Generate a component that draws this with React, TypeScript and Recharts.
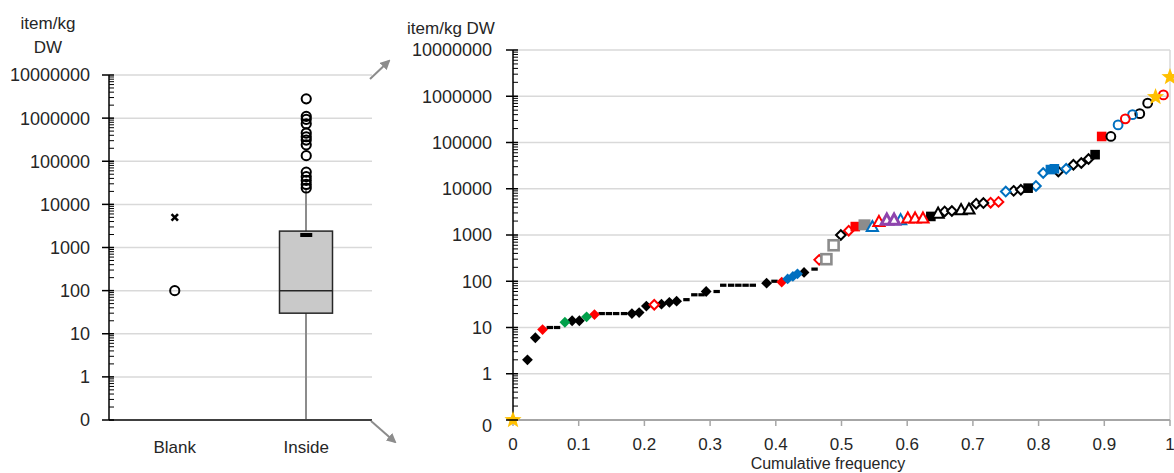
import React from "react";
import {
  ComposedChart,
  ScatterChart,
  Scatter,
  Bar,
  XAxis,
  YAxis,
  CartesianGrid,
} from "recharts";

const FONT = '"Liberation Sans", Arial, sans-serif';
const TEXT = "#262626";

// log axis: -1 is drawn as "0"
const majorTicks = [-1, 0, 1, 2, 3, 4, 5, 6, 7];
const majorLabels = ["0", "1", "10", "100", "1000", "10000", "100000", "1000000", "10000000"];
const minorTicks: number[] = [];
for (let n = -1; n < 7; n++) for (let k = 2; k <= 9; k++) minorTicks.push(n + Math.log10(k));
const allTicks = [...majorTicks, ...minorTicks];

const toLog = (v: number) => Math.log10(Math.max(v, 0.1));

// ---- left panel: box plot ----
const groups = ["Blank", "Inside"];
const insideBox = { low: 0, q1: 30, median: 100, q3: 2400, high: 22000 };
const insideMean = 1950;
const insideOutliers = [
  2800000, 1100000, 940000, 740000, 450000, 370000, 310000, 240000, 135000, 56000, 44000, 36000,
  29000, 24000,
];
const blankValues = [100];
const blankMean = 5000;

// ---- right panel: cumulative frequency (freq, item/kg DW) ----
const blackDiamonds = [[0.022, 2], [0.034, 6], [0.09, 14], [0.101, 14], [0.181, 20], [0.192, 21], [0.203, 29], [0.226, 32], [0.238, 35], [0.249, 37], [0.294, 60], [0.386, 91], [0.443, 155]];
const redDiamonds = [[0.045, 9], [0.124, 19], [0.409, 96]];
const greenDiamonds = [[0.079, 13], [0.112, 17]];
const blueDiamonds = [[0.418, 112], [0.426, 127], [0.433, 145]];
const dashes = [[0.056, 10], [0.067, 10], [0.135, 20], [0.146, 20], [0.157, 20], [0.169, 20], [0.264, 40], [0.276, 51], [0.287, 51], [0.31, 60], [0.32, 82], [0.332, 82], [0.343, 82], [0.354, 82], [0.365, 82], [0.398, 100], [0.459, 183]];
const redOpenDiamonds = [[0.215, 31], [0.466, 290], [0.511, 1240], [0.727, 5000], [0.739, 5200]];
const blackOpenDiamonds = [[0.499, 1000], [0.657, 3230], [0.668, 3300], [0.705, 4750], [0.716, 4900], [0.762, 9000], [0.773, 9500], [0.83, 23600], [0.853, 33000], [0.865, 36000], [0.876, 44000]];
const blueOpenDiamonds = [[0.75, 8700], [0.796, 11500], [0.807, 21900], [0.842, 27000]];
const grayOpenSquares = [[0.477, 300], [0.488, 600]];
const graySquares = [[0.535, 1660]];
const redSquares = [[0.521, 1520], [0.896, 135000]];
const blackSquares = [[0.636, 2520], [0.784, 10300], [0.886, 54600]];
const blueSquares = [[0.818, 26000], [0.824, 27000]];
const redTriangles = [[0.557, 1960], [0.601, 2330], [0.612, 2330], [0.624, 2330]];
const blueTriangles = [[0.547, 1520], [0.59, 2140]];
const purpleTriangles = [[0.569, 2140], [0.58, 2140]];
const blackTriangles = [[0.647, 2960], [0.682, 3530], [0.694, 3640]];
const blackCircles = [[0.91, 135000], [0.954, 420000], [0.966, 710000]];
const blueCircles = [[0.921, 240000], [0.943, 400000]];
const redCircles = [[0.932, 325000], [0.99, 1070000]];
const stars = [[0, 0], [0.978, 960000], [1, 2600000]];

const freqTicks = [0, 0.1, 0.2, 0.3, 0.4, 0.5, 0.6, 0.7, 0.8, 0.9, 1];

type Mk = { kind: string; color: string; open?: boolean; sw?: number };

const makeShape = (m: Mk) => (props: any) => {
  const { cx, cy } = props;
  if (cx == null || cy == null) return <g />;
  const fill = m.open ? "#fff" : m.color;
  switch (m.kind) {
    case "diamond": {
      const r = m.open ? 4.8 : 5.4;
      return (
        <path
          d={`M${cx},${cy - r}L${cx + r},${cy}L${cx},${cy + r}L${cx - r},${cy}Z`}
          fill={fill}
          stroke={m.color}
          strokeWidth={m.open ? 2 : 0}
        />
      );
    }
    case "square": {
      const r = m.open ? 5 : 4.8;
      return <rect x={cx - r} y={cy - r} width={2 * r} height={2 * r} fill={fill} stroke={m.color} strokeWidth={m.open ? 2.6 : 0} />;
    }
    case "bigsquare":
      return <rect x={cx - 6} y={cy - 5.5} width={12} height={11} fill={m.color} />;
    case "triangle": {
      const r = 5.6;
      return (
        <path
          d={`M${cx},${cy - r}L${cx + r},${cy + r * 0.8}L${cx - r},${cy + r * 0.8}Z`}
          fill="#fff"
          stroke={m.color}
          strokeWidth={m.sw ?? 2}
        />
      );
    }
    case "circle":
      return <circle cx={cx} cy={cy} r={m.sw ? 4.4 : 4.6} fill="none" stroke={m.color} strokeWidth={2} />;
    case "dash":
      return <rect x={cx - 3.2} y={cy - 1.6} width={6.4} height={3.2} fill={m.color} />;
    case "star": {
      const R = 9;
      const r = 3.8;
      let d = "";
      for (let i = 0; i < 10; i++) {
        const rad = i % 2 === 0 ? R : r;
        const a = -Math.PI / 2 + (i * Math.PI) / 5;
        d += `${i === 0 ? "M" : "L"}${cx + rad * Math.cos(a)},${cy + rad * Math.sin(a)}`;
      }
      return <path d={d + "Z"} fill={m.color} />;
    }
    case "cross":
      return (
        <g stroke={m.color} strokeWidth={2.6}>
          <line x1={cx - 3.2} y1={cy - 3.2} x2={cx + 3.2} y2={cy + 3.2} />
          <line x1={cx - 3.2} y1={cy + 3.2} x2={cx + 3.2} y2={cy - 3.2} />
        </g>
      );
    case "mean":
      return <rect x={cx - 6} y={cy - 2} width={12} height={4} fill={m.color} />;
    default:
      return <g />;
  }
};

const series: { pts: number[][]; m: Mk }[] = [
  { pts: dashes, m: { kind: "dash", color: "#000" } },
  { pts: blackDiamonds, m: { kind: "diamond", color: "#000" } },
  { pts: redDiamonds, m: { kind: "diamond", color: "#ff0000" } },
  { pts: greenDiamonds, m: { kind: "diamond", color: "#00a04a" } },
  { pts: blueDiamonds, m: { kind: "diamond", color: "#0070c0" } },
  { pts: redOpenDiamonds, m: { kind: "diamond", color: "#ff0000", open: true } },
  { pts: blackOpenDiamonds, m: { kind: "diamond", color: "#000", open: true } },
  { pts: blueOpenDiamonds, m: { kind: "diamond", color: "#0070c0", open: true } },
  { pts: grayOpenSquares, m: { kind: "square", color: "#8c8c8c", open: true } },
  { pts: redSquares, m: { kind: "square", color: "#ff0000" } },
  { pts: graySquares, m: { kind: "bigsquare", color: "#8c8c8c" } },
  { pts: blackSquares, m: { kind: "square", color: "#000" } },
  { pts: blueSquares, m: { kind: "square", color: "#0070c0" } },
  { pts: blueTriangles, m: { kind: "triangle", color: "#0070c0" } },
  { pts: redTriangles, m: { kind: "triangle", color: "#ff0000" } },
  { pts: purpleTriangles, m: { kind: "triangle", color: "#8e44ad", sw: 3 } },
  { pts: blackTriangles, m: { kind: "triangle", color: "#000" } },
  { pts: blackCircles, m: { kind: "circle", color: "#000", sw: 1 } },
  { pts: blueCircles, m: { kind: "circle", color: "#0070c0", sw: 1 } },
  { pts: redCircles, m: { kind: "circle", color: "#ff0000", sw: 1 } },
  { pts: stars, m: { kind: "star", color: "#ffc000" } },
];

const LogTick = (gap: number, zeroShift: number) => (props: any) => {
  const { x, y, payload } = props;
  const idx = majorTicks.indexOf(payload.value);
  if (idx < 0) {
    return <line x1={x} x2={x + 5} y1={y} y2={y} stroke="#000" strokeWidth={1} />;
  }
  return (
    <g>
      <line x1={x - 7} x2={x + 5} y1={y} y2={y} stroke="#000" strokeWidth={1.5} />
      <text
        x={x - gap}
        y={y + (idx === 0 ? zeroShift : 0)}
        dy="0.36em"
        textAnchor="end"
        fontSize={18}
        fill={TEXT}
        fontFamily={FONT}
      >
        {majorLabels[idx]}
      </text>
    </g>
  );
};

const BoxShape = (props: any) => {
  const { x, y, width, height, payload } = props;
  const b = payload.stats;
  if (!b || !height) return <g />;
  const q1 = toLog(b.q1);
  const q3 = toLog(b.q3);
  const px = height / (q3 - q1);
  const cx = x + width / 2;
  const top = y - (toLog(b.high) - q3) * px;
  const bottom = y + height + (q1 - toLog(b.low)) * px;
  const med = y + (q3 - toLog(b.median)) * px;
  return (
    <g>
      <line x1={cx} x2={cx} y1={top} y2={bottom} stroke="#8c8c8c" strokeWidth={2} />
      <rect x={x} y={y} width={width} height={height} fill="#c9c9c9" stroke="#262626" strokeWidth={1.5} />
      <line x1={x} x2={x + width} y1={med} y2={med} stroke="#262626" strokeWidth={1.5} />
    </g>
  );
};

const boxRows = groups.map((name) =>
  name === "Inside"
    ? { name, box: [toLog(insideBox.q1), toLog(insideBox.q3)], stats: insideBox }
    : { name }
);

const outlierData = [
  ...blankValues.map((v) => ({ name: "Blank", L: toLog(v) })),
  ...insideOutliers.map((v) => ({ name: "Inside", L: toLog(v) })),
];
const meanData = [{ name: "Inside", L: toLog(insideMean) }];
const blankMeanData = [{ name: "Blank", L: toLog(blankMean) }];

export default function App() {
  return (
    <div style={{ position: "absolute", left: 0, top: 0, width: 1174, height: 473, background: "#fff", fontFamily: FONT, overflow: "hidden" }}>
      <div style={{ position: "absolute", left: 0, top: 0 }}>
        <ComposedChart width={380} height={473} data={boxRows} margin={{ top: 75, right: 8, bottom: 0, left: 0 }}>
          <CartesianGrid vertical={false} horizontalValues={majorTicks} stroke="#d9d9d9" strokeWidth={1.5} />
          <XAxis
            dataKey="name"
            type="category"
            allowDuplicatedCategory={false}
            height={53}
            axisLine={{ stroke: "#404040", strokeWidth: 2 }}
            tickLine={false}
            tickSize={0}
            tickMargin={21}
            tick={{ fontSize: 17, fill: TEXT, fontFamily: FONT }}
          />
          <YAxis
            type="number"
            domain={[-1, 7]}
            ticks={allTicks}
            interval={0}
            width={109}
            axisLine={{ stroke: "#000", strokeWidth: 1.5 }}
            tickLine={false}
            tickSize={0}
            tickMargin={0}
            tick={LogTick(19, 0)}
          />
          <Bar dataKey="box" barSize={53} shape={BoxShape} isAnimationActive={false} />
          <Scatter data={outlierData} dataKey="L" shape={makeShape({ kind: "circle", color: "#000" })} isAnimationActive={false} />
          <Scatter data={meanData} dataKey="L" shape={makeShape({ kind: "mean", color: "#000" })} isAnimationActive={false} />
          <Scatter data={blankMeanData} dataKey="L" shape={makeShape({ kind: "cross", color: "#000" })} isAnimationActive={false} />
        </ComposedChart>
      </div>

      <div style={{ position: "absolute", left: 380, top: 0 }}>
        <ScatterChart width={794} height={473} margin={{ top: 50, right: 4, bottom: 0, left: 0 }} style={{ overflow: "visible" }}>
          <CartesianGrid horizontalValues={majorTicks} verticalValues={[1]} stroke="#d9d9d9" strokeWidth={1.5} />
          <XAxis
            dataKey="f"
            type="number"
            domain={[0, 1]}
            ticks={freqTicks}
            interval={0}
            height={53}
            axisLine={{ stroke: "#a6a6a6", strokeWidth: 2 }}
            tickLine={{ stroke: "#a6a6a6", strokeWidth: 1.5 }}
            tickSize={6}
            tickMargin={12}
            tick={{ fontSize: 17, fill: TEXT, fontFamily: FONT }}
          />
          <YAxis
            dataKey="L"
            type="number"
            domain={[-1, 7]}
            ticks={allTicks}
            interval={0}
            width={133}
            axisLine={{ stroke: "#000", strokeWidth: 1.5 }}
            tickLine={false}
            tickSize={0}
            tickMargin={0}
            tick={LogTick(21, 6)}
          />
          {series.map((s, i) => (
            <Scatter
              key={i}
              data={s.pts.map(([f, v]) => ({ f, L: toLog(v) }))}
              shape={makeShape(s.m)}
              isAnimationActive={false}
            />
          ))}
        </ScatterChart>
      </div>

      <svg width={1174} height={473} style={{ position: "absolute", left: 0, top: 0, pointerEvents: "none" }}>
        <defs>
          <marker id="ah" viewBox="0 0 10 10" refX="8" refY="5" markerWidth="5" markerHeight="5" orient="auto">
            <path d="M0,0L10,5L0,10Z" fill="#8c8c8c" />
          </marker>
        </defs>
        <g fontFamily={FONT} fontSize={17} fill={TEXT} textAnchor="middle">
          <text x={48} y={29}>item/kg</text>
          <text x={48} y={53}>DW</text>
          <text x={451} y={34}>item/kg DW</text>
          <text x={828} y={469} fontSize={16}>Cumulative frequency</text>
        </g>
        <line x1={370} y1={79} x2={389} y2={61} stroke="#8c8c8c" strokeWidth={2} markerEnd="url(#ah)" />
        <line x1={371} y1={421} x2={395} y2={442} stroke="#8c8c8c" strokeWidth={2} markerEnd="url(#ah)" />
      </svg>
    </div>
  );
}
